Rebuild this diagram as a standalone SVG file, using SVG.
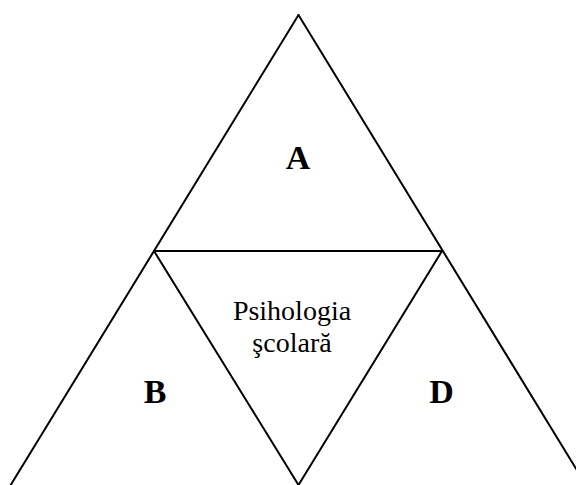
<svg xmlns="http://www.w3.org/2000/svg" width="576" height="485" viewBox="0 0 576 485">
<style>
.ln{stroke:#000;stroke-width:2;fill:none;stroke-linecap:round}
.lbl{font-family:"Liberation Serif",serif;font-weight:bold;font-size:34px;text-anchor:middle;fill:#000}
.txt{font-family:"Liberation Serif",serif;font-size:28px;text-anchor:middle;fill:#000}
</style>
<rect width="576" height="485" fill="#fff"/>
<g id="connectors">
<line class="ln" x1="298.5" y1="15" x2="10.7" y2="485"/>
<line class="ln" x1="298.5" y1="15" x2="586" y2="485"/>
<line class="ln" x1="154" y1="251" x2="442" y2="251"/>
<line class="ln" x1="154" y1="251" x2="298.5" y2="485"/>
<line class="ln" x1="442" y1="251" x2="298.5" y2="485"/>
</g>
<g id="A"><text class="lbl" x="298" y="169">A</text></g>
<g id="B"><text class="lbl" x="155" y="403">B</text></g>
<g id="D"><text class="lbl" x="441.5" y="403">D</text></g>
<g id="center"><text class="txt" x="292" y="320">Psihologia</text><text class="txt" x="292" y="352">şcolară</text></g>
</svg>
